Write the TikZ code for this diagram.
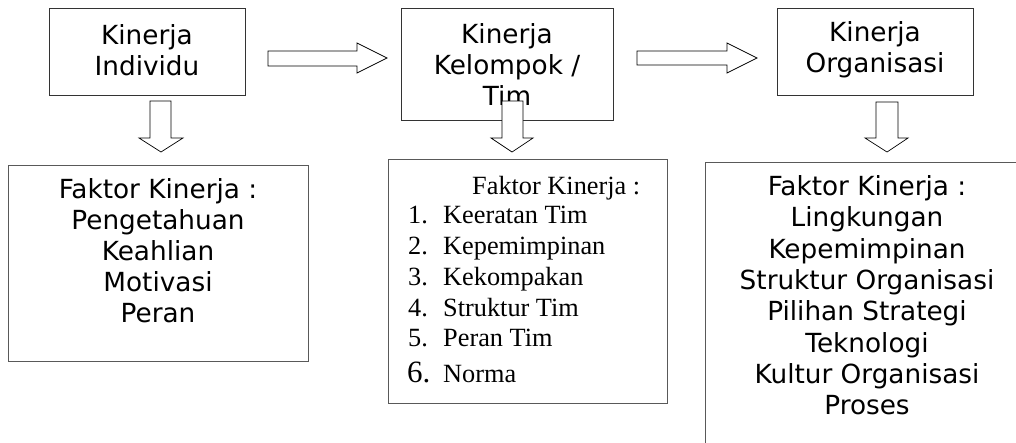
\documentclass[tikz,border=0pt]{standalone}
\usepackage{fontspec}
\setmainfont{DejaVu Sans}
\newfontfamily\timesf{Liberation Serif}
\begin{document}
\begin{tikzpicture}[x=1pt,y=-1pt,
  topbox/.style={draw=black!80, line width=0.8pt, fill=white, inner sep=0pt},
  botbox/.style={draw=black!65, line width=1pt, fill=none},
  blockarrow/.style={draw=black, line width=0.7pt, fill=white, line join=miter},
  sanstext/.style={font=\fontsize{26.3}{31}\selectfont, align=center, inner sep=0pt},
  sertext/.style={font=\timesf\fontsize{26.3}{30}\selectfont, inner sep=0pt, anchor=base west}]
\useasboundingbox (0,0) rectangle (1016,442);
\fill[white] (0,0) rectangle (1016,442);

% top boxes
\node[topbox, minimum width=196pt, minimum height=87pt] (ind) at (147,51.5) {};
\node[sanstext] (indt) at (147,50) {Kinerja\\Individu};
\node[topbox, minimum width=212pt, minimum height=112pt] (kel) at (507,64) {};
\node[sanstext] (kelt) at (507,65) {Kinerja\\Kelompok /\\Tim};
\node[topbox, minimum width=196pt, minimum height=87pt] (org) at (875,51.5) {};
\node[sanstext] (orgt) at (875,50) {Kinerja\\Organisasi};

% right block arrows
\draw[blockarrow] (268,51) -- (357,51) -- (357,43) -- (387,58) -- (357,73) -- (357,66) -- (268,66) -- cycle;
\draw[blockarrow] (637,51) -- (727,51) -- (727,43) -- (757,58) -- (727,73) -- (727,65) -- (637,65) -- cycle;

% down block arrows
\draw[blockarrow] (150,101) -- (171,101) -- (171,138) -- (183,138) -- (161,152) -- (139,138) -- (150,138) -- cycle;
\draw[blockarrow] (502,101) -- (523,101) -- (523,138) -- (533,138) -- (512,152) -- (491,138) -- (502,138) -- cycle;
\draw[blockarrow] (876,102) -- (898,102) -- (898,138) -- (908,138) -- (887,152) -- (865,138) -- (876,138) -- cycle;

% bottom box 1
\draw[botbox] (8,165) rectangle (308,361);
\node[sanstext, anchor=north] (f1) at (158,178.5) {Faktor Kinerja :\\Pengetahuan\\Keahlian\\Motivasi\\Peran};

% bottom box 2
\draw[botbox] (388,159) rectangle (667,403);
\node[sertext] (f2) at (472,194) {Faktor Kinerja :};
\node[sertext] (n1) at (408,223) {1.};
\node[sertext] (l1) at (443,223) {Keeratan Tim};
\node[sertext] (n2) at (408,254) {2.};
\node[sertext] (l2) at (443,254) {Kepemimpinan};
\node[sertext] (n3) at (408,285) {3.};
\node[sertext] (l3) at (443,285) {Kekompakan};
\node[sertext] (n4) at (408,316) {4.};
\node[sertext] (l4) at (443,316) {Struktur Tim};
\node[sertext] (n5) at (408,346) {5.};
\node[sertext] (l5) at (443,346) {Peran Tim};
\node[sertext, font=\timesf\fontsize{31}{36}\selectfont] (n6) at (407,382) {6.};
\node[sertext] (l6) at (443,382) {Norma};

% bottom box 3 (extends past the frame)
\draw[botbox] (705,470) -- (705,162) -- (1030,162);
\node[sanstext, anchor=north, font=\fontsize{26.3}{31.3}\selectfont] (f3) at (867,175.5) {Faktor Kinerja :\\Lingkungan\\Kepemimpinan\\Struktur Organisasi\\Pilihan Strategi\\Teknologi\\Kultur Organisasi\\Proses};
\end{tikzpicture}
\end{document}
